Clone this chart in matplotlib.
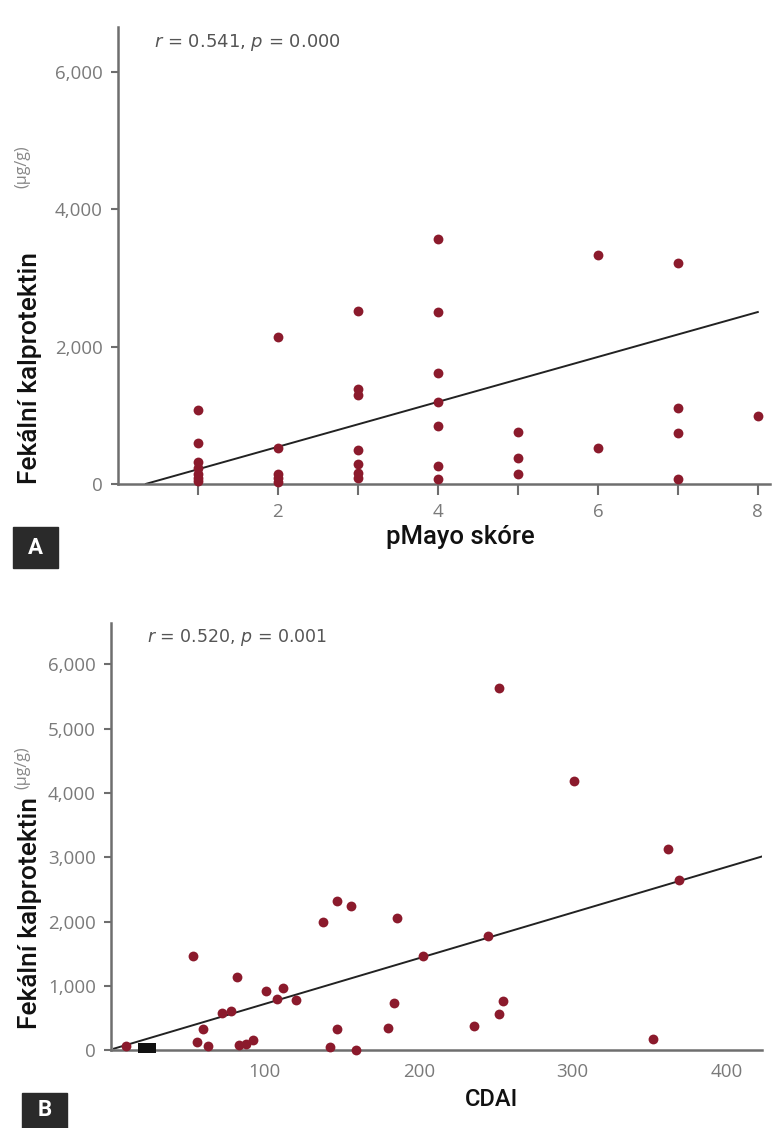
import numpy as np
import matplotlib
matplotlib.use("Agg")
import matplotlib.pyplot as plt
from matplotlib.patches import Rectangle

# Panel A: pMayo skore vs fecal calprotectin
mayo_x = [1, 1, 1, 1, 1, 1, 1,
          2, 2, 2, 2, 2,
          3, 3, 3, 3, 3, 3, 3,
          4, 4, 4, 4, 4, 4, 4,
          5, 5, 5,
          6, 6,
          7, 7, 7, 7,
          8]
mayo_y = [1070, 600, 320, 230, 150, 90, 40,
          2140, 520, 150, 80, 30,
          2520, 1380, 1300, 490, 290, 160, 80,
          3560, 2500, 1610, 1190, 850, 260, 70,
          750, 370, 140,
          3330, 520,
          3210, 1110, 740, 70,
          990]
mayo_fit = (327, -114)        # slope, intercept
mayo_fit_range = (0.35, 8.0)

# Panel B: CDAI vs fecal calprotectin
cdai_x = [10, 53, 56, 60, 63, 72, 78, 82, 83, 88, 92, 101, 108, 112, 120,
          138, 142, 147, 147, 156, 159, 180, 184, 186, 203, 236, 245, 252,
          252, 255, 301, 352, 362, 369]
cdai_y = [60, 1470, 130, 330, 70, 580, 610, 1140, 80, 90, 160, 920, 800, 970, 780,
          1990, 50, 2320, 330, 2250, 0, 350, 740, 2060, 1470, 380, 1780, 570,
          5640, 760, 4190, 170, 3130, 2650]
cdai_black_x = [21, 26]
cdai_black_y = [30, 30]
cdai_fit = (7.1, 10)
cdai_fit_range = (2, 423)

dot_color = "#8b1a2c"
spine_color = "#6e6e6e"
tick_color = "#7a7a7a"

fig = plt.figure(figsize=(7.76, 11.28), dpi=100)


def style_axes(ax):
    for s in ["top", "right"]:
        ax.spines[s].set_visible(False)
    for s in ["left", "bottom"]:
        ax.spines[s].set_color(spine_color)
        ax.spines[s].set_linewidth(1.8)
    ax.tick_params(colors=spine_color, labelcolor=tick_color, labelsize=13.5, width=1.5)
    for lab in ax.get_xticklabels() + ax.get_yticklabels():
        lab.set_family("Open Sans")
    ax.yaxis.set_major_formatter(matplotlib.ticker.FuncFormatter(lambda v, p: f"{int(v):,}"))


# ---- Panel A ----
axA = fig.add_axes([0.152, 0.571, 0.840, 0.405])
axA.scatter(mayo_x, mayo_y, s=50, color=dot_color, zorder=3, clip_on=False, linewidths=0)
fx = np.array(mayo_fit_range)
axA.plot(fx, mayo_fit[0] * fx + mayo_fit[1], color="#222222", lw=1.4, zorder=2)
axA.set_xlim(0, 8.15)
axA.set_ylim(0, 6650)
axA.set_yticks([0, 2000, 4000, 6000])
axA.set_xticks(range(1, 9))
axA.set_xticklabels(["" if i % 2 else str(i) for i in range(1, 9)])
style_axes(axA)
axA.tick_params(axis="x", length=8, pad=6)
axA.tick_params(axis="y", length=5, pad=6)
axA.text(0.055, 0.99, "$r$ = 0.541, $p$ = 0.000", transform=axA.transAxes,
         fontsize=13, color="#555555", va="top", ha="left")

# ---- Panel B ----
axB = fig.add_axes([0.143, 0.069, 0.839, 0.379])
axB.scatter(cdai_x, cdai_y, s=50, color=dot_color, zorder=3, clip_on=False, linewidths=0)
axB.scatter(cdai_black_x, cdai_black_y, s=45, marker="s", color="#111111", zorder=4,
            clip_on=False, linewidths=0)
fx = np.array(cdai_fit_range)
axB.plot(fx, cdai_fit[0] * fx + cdai_fit[1], color="#222222", lw=1.4, zorder=2)
axB.set_xlim(0, 423)
axB.set_ylim(0, 6650)
axB.set_yticks(range(0, 7000, 1000))
axB.set_xticks([100, 200, 300, 400])
style_axes(axB)
axB.tick_params(axis="x", length=0, pad=9)
axB.tick_params(axis="y", length=5, pad=6)
axB.text(0.055, 0.99, "$r$ = 0.520, $p$ = 0.001", transform=axB.transAxes,
         fontsize=12.5, color="#555555", va="top", ha="left")

# ---- labels ----
for yc, yu in [(0.674, 0.852), (0.191, 0.319)]:
    fig.text(0.039, yc, "Fekální kalprotektin", rotation=90, ha="center", va="center",
             fontsize=19, family="Roboto", fontweight="medium", color="#111111")
    fig.text(0.029, yu, "(μg/g)", rotation=90, ha="center", va="center",
             fontsize=11.5, color="#888888", family="Open Sans")

fig.text(0.593, 0.524, "pMayo skóre", ha="center", va="center", fontsize=18.5,
         family="Roboto", fontweight="medium", color="#111111")
fig.text(0.634, 0.025, "CDAI", ha="center", va="center", fontsize=17,
         family="Roboto", fontweight="medium", color="#111111")

# panel letters
for (x0, y0, w, h, letter) in [(13, 527, 45, 41, "A"), (22, 1093, 45, 35, "B")]:
    fig.patches.append(Rectangle((x0 / 776, 1 - (y0 + h) / 1128), w / 776, h / 1128,
                                 transform=fig.transFigure, color="#2a2a2a", zorder=5))
    fig.text((x0 + w / 2) / 776, 1 - (y0 + h / 2) / 1128, letter, ha="center", va="center",
             fontsize=16, fontweight="bold", color="white", family="Roboto", zorder=6)

fig.savefig("out.png", dpi=100, facecolor="white")
